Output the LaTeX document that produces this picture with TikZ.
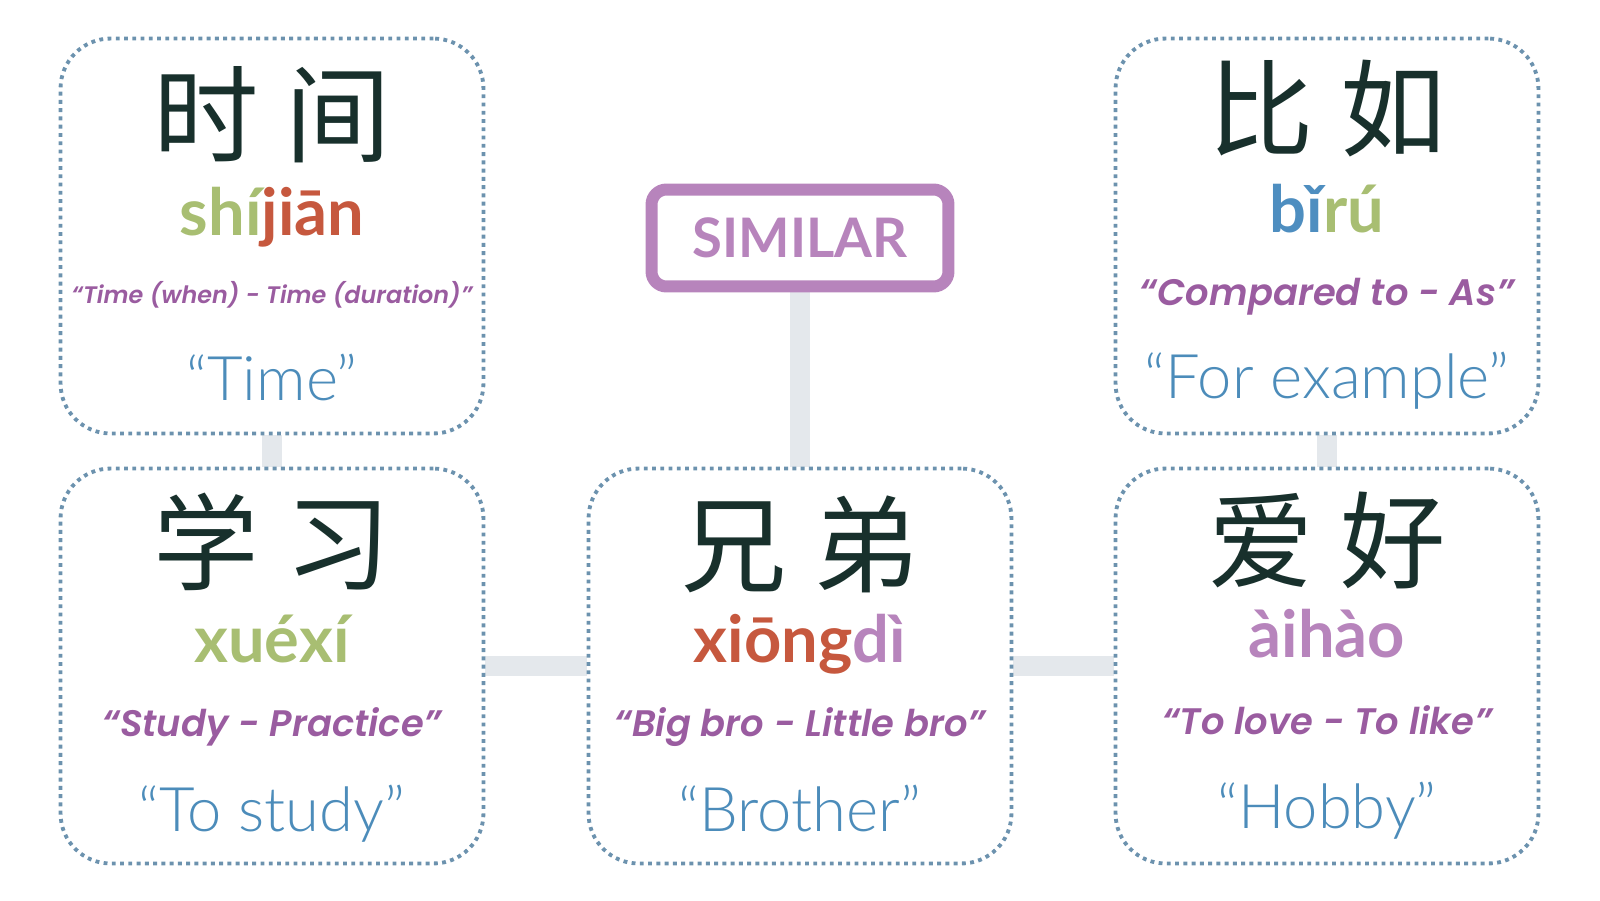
\documentclass[tikz,border=0pt]{standalone}
\usepackage{fontspec}
\usetikzlibrary{backgrounds}
\setmainfont{Lato}
\newfontfamily\cjk{Noto Sans CJK SC}
\newfontfamily\thinfont{Lato Light}
\newfontfamily\litfont{Poppins}[BoldItalicFont=* SemiBold Italic]
\definecolor{dotblue}{RGB}{108,146,174}
\definecolor{pygreen}{RGB}{168,190,114}
\definecolor{pyred}{RGB}{198,88,62}
\definecolor{pyblue}{RGB}{78,142,192}
\definecolor{lilac}{RGB}{183,132,188}
\definecolor{mauve}{RGB}{154,92,160}
\definecolor{inkgreen}{RGB}{24,48,44}
\definecolor{linkgray}{RGB}{228,232,236}
\definecolor{meanblue}{RGB}{76,140,186}

\begin{document}
\begin{tikzpicture}[x=0.02cm, y=-0.02cm,
    card/.style={draw=dotblue, line width=2.2pt, dash pattern=on 2.2pt off 2.5pt,
        rounded corners=1cm, minimum width=8.46cm, minimum height=7.9cm},
    hanzi/.style={text=inkgreen, font=\cjk\fontsize{60}{60}\selectfont},
    pinyin/.style={anchor=base, font=\bfseries\fontsize{37}{37}\selectfont},
    literal/.style={anchor=base, text=mauve, font=\litfont\bfseries\itshape\fontsize{21}{21}\selectfont},
    meaning/.style={anchor=base, text=meanblue, font=\thinfont\fontsize{35}{35}\selectfont},
    link/.style={draw=linkgray, line width=0.4cm}]
    \useasboundingbox (0,0) rectangle (1600,900);

    \node[card] (shijian) at (272,236) {};
    \node[card] (biru) at (1327,236) {};
    \node[card] (xuexi) at (272,666) {};
    \node[card] (xiongdi) at (800,666) {};
    \node[card] (aihao) at (1327,666) {};
    \node[draw=lilac, line width=0.24cm, rounded corners=0.3cm, minimum width=5.94cm,
        minimum height=1.94cm, text=lilac, font=\bfseries\fontsize{31}{31}\selectfont]
        (similar) at (800,238) {SIMILAR};

    \node[hanzi] (shijian-hz) at (272,115) {时\hspace{.25em}间};
    \node[pinyin] (shijian-py) at (272,235) {\color{pygreen}shí\color{pyred}jiān};
    \node[literal, font=\litfont\bfseries\itshape\fontsize{13.6}{13.6}\selectfont] (shijian-lit) at (272,303) {“Time (when) - Time (duration)”};
    \node[meaning] (shijian-en) at (272,400) {“Time”};

    \node[hanzi] (biru-hz) at (1327,109) {比\hspace{.25em}如};
    \node[pinyin] (biru-py) at (1327,232) {\color{pyblue}bǐ\color{pygreen}rú};
    \node[literal] (biru-lit) at (1327,305) {“Compared to - As”};
    \node[meaning] (biru-en) at (1327,398) {“For example”};

    \node[hanzi] (xuexi-hz) at (272,542) {学\hspace{.25em}习};
    \node[pinyin, text=pygreen] (xuexi-py) at (272,662) {xuéxí};
    \node[literal] (xuexi-lit) at (272,736) {“Study - Practice”};
    \node[meaning] (xuexi-en) at (272,831) {“To study”};

    \node[hanzi] (xiongdi-hz) at (800,544) {兄\hspace{.25em}弟};
    \node[pinyin] (xiongdi-py) at (800,662) {\color{pyred}xiōng\color{lilac}dì};
    \node[literal] (xiongdi-lit) at (800,736) {“Big bro - Little bro”};
    \node[meaning] (xiongdi-en) at (800,831) {“Brother”};

    \node[hanzi] (aihao-hz) at (1327,540) {爱\hspace{.25em}好};
    \node[pinyin, text=lilac] (aihao-py) at (1327,657) {àihào};
    \node[literal] (aihao-lit) at (1327,734) {“To love - To like”};
    \node[meaning] (aihao-en) at (1327,828) {“Hobby”};

    \begin{scope}[on background layer]
        \draw[link] (similar.south) -- (xiongdi.north);
        \draw[link] (shijian.south) -- (xuexi.north);
        \draw[link] (biru.south) -- (aihao.north);
        \draw[link] (xuexi.east) -- (xiongdi.west);
        \draw[link] (xiongdi.east) -- (aihao.west);
    \end{scope}
\end{tikzpicture}
\end{document}
